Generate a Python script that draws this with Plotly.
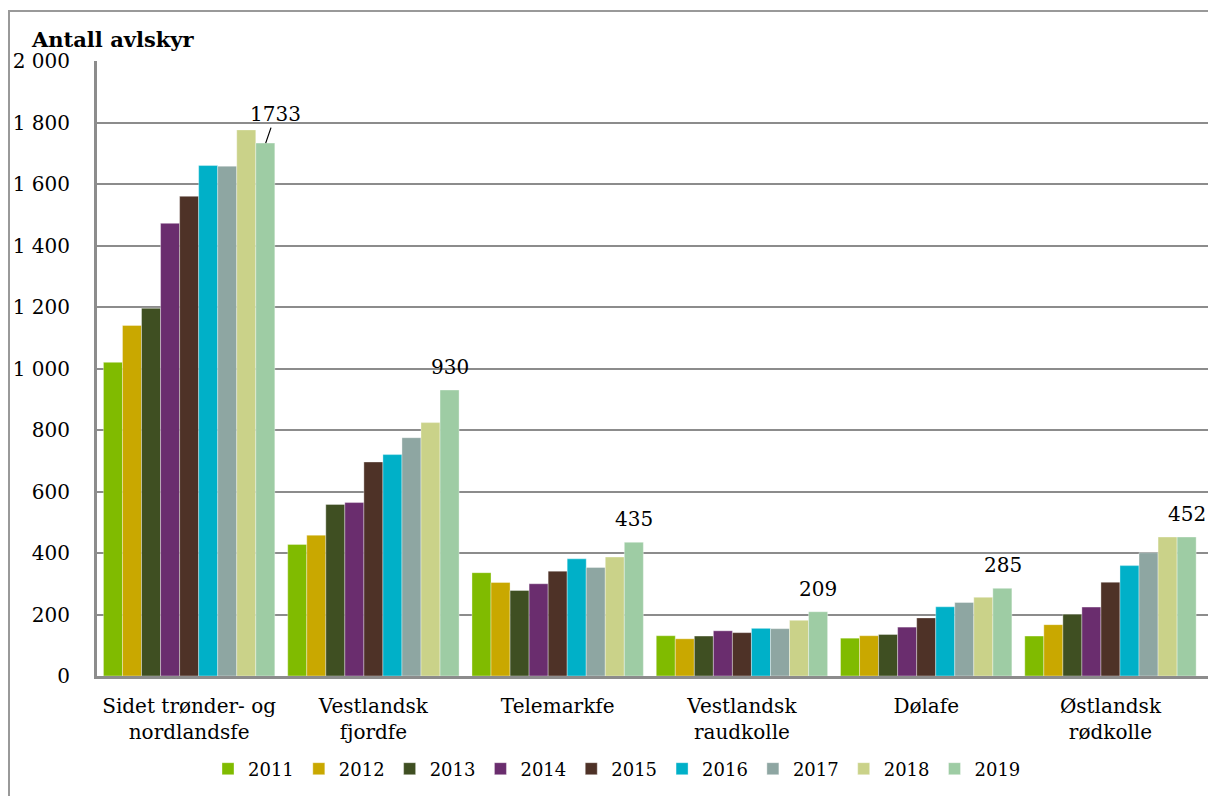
import plotly.graph_objects as go

categories = ["Sidet trønder- og<br>nordlandsfe", "Vestlandsk<br>fjordfe", "Telemarkfe",
              "Vestlandsk<br>raudkolle", "Dølafe", "Østlandsk<br>rødkolle"]
years = ["2011", "2012", "2013", "2014", "2015", "2016", "2017", "2018", "2019"]
v2011 = [1020, 428, 336, 131, 123, 130]
v2012 = [1140, 458, 304, 121, 131, 167]
v2013 = [1196, 558, 278, 130, 135, 201]
v2014 = [1472, 564, 300, 147, 159, 224]
v2015 = [1560, 696, 341, 141, 189, 305]
v2016 = [1660, 720, 381, 155, 225, 359]
v2017 = [1658, 775, 353, 154, 239, 401]
v2018 = [1776, 824, 387, 181, 256, 452]
v2019 = [1733, 930, 435, 209, 285, 452]
series = [v2011, v2012, v2013, v2014, v2015, v2016, v2017, v2018, v2019]
colors = ["#80bb00", "#c9a800", "#3f4f22", "#6a2d6e", "#4e3227",
          "#00b0c8", "#8ea6a2", "#cad289", "#9ecca4"]

FONT = "DejaVu Serif"
W, H = 1208, 796
# on-screen plot area: x 97..1208, y 61..676
PL, PR, PT, PB = 97, 1208, 61, 676
ml, mt = PL, PT
mr = W - PR
mb = H - PB
plot_w = PR - PL
plot_h = PB - PT
bargap = 0.07


def px(sx):
    return (sx - PL) / plot_w


def py(sy):
    return (PB - sy) / plot_h


fig = go.Figure()
for yr, vals, col in zip(years, series, colors):
    fig.add_trace(go.Bar(name=yr, x=categories, y=vals, marker_color=col,
                         marker_line_width=0.6, marker_line_color="rgba(255,255,255,0.6)"))

band = plot_w / len(categories)
barw = band * (1 - bargap) / len(years)
shift_last = (len(years) - 1) / 2 * barw

annotations = []
for i, (cat, val) in enumerate(zip(categories, v2019)):
    if i == 0:
        annotations.append(dict(x=cat, y=val, xref="x", yref="y", text=str(val),
                                showarrow=True, arrowhead=0, arrowwidth=1.2, arrowcolor="black",
                                ax=10, ay=-29, xshift=shift_last, standoff=0,
                                font=dict(family=FONT, size=20, color="black")))
    else:
        annotations.append(dict(x=cat, y=val, xref="x", yref="y", text=str(val),
                                showarrow=False, xshift=shift_last, yshift=23,
                                font=dict(family=FONT, size=20, color="black")))

annotations.append(dict(x=px(29), y=py(40), xref="paper", yref="paper",
                        xanchor="left", yanchor="middle", showarrow=False,
                        text="<b>Antall avlskyr</b>",
                        font=dict(family=FONT, size=21, color="black")))

fig.update_layout(
    width=W, height=H,
    margin=dict(l=ml, r=mr, t=mt, b=mb, pad=0),
    paper_bgcolor="white", plot_bgcolor="white",
    barmode="group", bargap=bargap, bargroupgap=0,
    separators=". ",
    font=dict(family=FONT, size=18, color="black"),
    showlegend=True,
    legend=dict(orientation="h", x=px(617), xanchor="center",
                y=py(769), yanchor="middle", font=dict(family=FONT, size=18),
                itemwidth=30, traceorder="normal"),
    annotations=annotations,
    shapes=[dict(type="rect", xref="paper", yref="paper",
                 x0=px(9), x1=1.2, y0=-0.4, y1=py(11),
                 line=dict(color="#999999", width=2), layer="below")],
)
fig.update_xaxes(showline=True, linecolor="#8c8c8c", linewidth=3, ticks="",
                 tickfont=dict(family=FONT, size=20), showgrid=False,
                 ticklabelstandoff=10)
fig.update_yaxes(range=[0, 2000], tickvals=list(range(0, 2001, 200)), tickformat=",d",
                 showgrid=True, gridcolor="#8c8c8c", gridwidth=2,
                 showline=True, linecolor="#8c8c8c", linewidth=3,
                 ticks="", ticklabelstandoff=20, zeroline=False,
                 tickfont=dict(family=FONT, size=20))

fig.write_html("out.html", config={"displayModeBar": False},
               post_script="document.body.style.margin='0';document.body.style.overflow='hidden';")
